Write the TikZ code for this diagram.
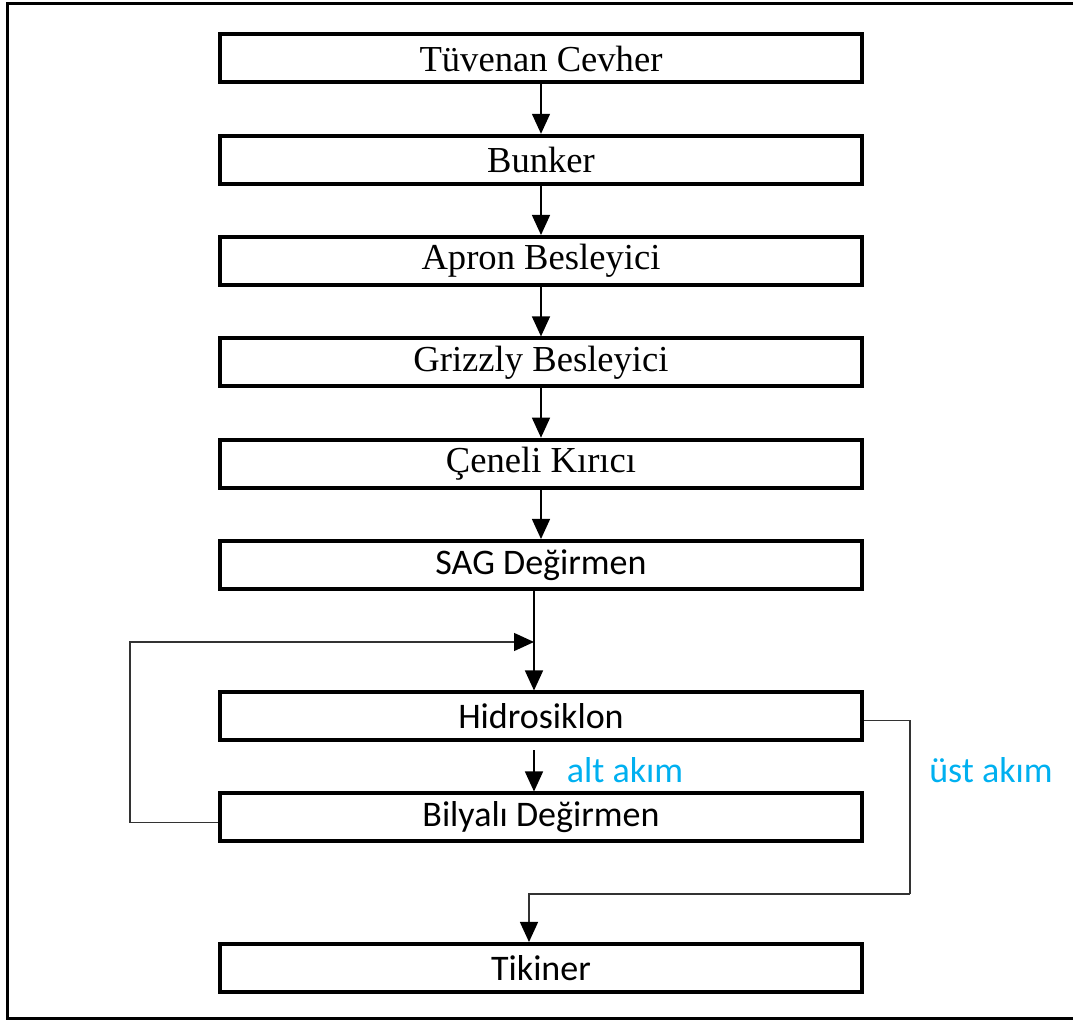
\documentclass[tikz,border=0pt]{standalone}
\usepackage{fontspec}
\setmainfont{Liberation Serif}
\newfontfamily\carlito{Carlito}
\usetikzlibrary{arrows.meta}
\definecolor{akimblue}{RGB}{0,176,240}

\begin{document}
\begin{tikzpicture}[x=0.5pt,y=-0.5pt,
  kutu/.style={draw,line width=2pt,minimum width=321pt,minimum height=24pt,inner sep=0pt},
  serif/.style={font=\fontsize{18.3}{20}\selectfont},
  sans/.style={font=\carlito\fontsize{18}{20}\selectfont},
  ok/.style={-{Triangle[length=10pt,width=9pt,black]},line width=0.7pt},
  hat/.style={line width=0.7pt,draw=black!80}]
  \useasboundingbox (0,0) rectangle (1073,1021);
  % outer frame, right side runs past the page
  \draw[line width=1.5pt] (1085,4) -- (7,4) -- (7,1019) -- (1085,1019);
  % crushing line
  \node[kutu,serif] (tuvenan) at (541,58.5)  {Tüvenan Cevher};
  \node[kutu,serif] (bunker)  at (541,159.8) {Bunker};
  \node[kutu,serif] (apron)   at (541,261)   {Apron Besleyici};
  \node[kutu,serif] (grizzly) at (541,362.4) {Grizzly Besleyici};
  \node[kutu,serif] (ceneli)  at (541,463.7) {Çeneli Kırıcı};
  % grinding circuit
  \node[kutu,sans] (sag)      at (541,565)   {SAG Değirmen};
  \node[kutu,sans] (hidro)    at (541,716.5) {Hidrosiklon};
  \node[kutu,sans] (bilyali)  at (541,817.5) {Bilyalı Değirmen};
  \node[kutu,sans] (tikiner)  at (541,968)   {Tikiner};
  \node[sans,text=akimblue] (alt) at (625,770) {alt akım};
  \node[sans,text=akimblue] (ust) at (991,770) {üst akım};
  \coordinate (birles) at (534,642);
  \coordinate (donus)  at (910,894);
  \draw[ok] (tuvenan) -- (bunker);
  \draw[ok] (bunker) -- (apron);
  \draw[ok] (apron) -- (grizzly);
  \draw[ok] (grizzly) -- (ceneli);
  \draw[ok] (ceneli) -- (sag);
  \draw[ok] (sag.south -| birles) -- (hidro.north -| birles);
  \draw[ok] ([yshift=-4pt]hidro.south -| birles) -- (bilyali.north -| birles);
  % recycle and overflow
  \draw[hat,ok] ([yshift=-2.5pt]bilyali.west) -- ++(-88,0) |- (birles);
  \draw[hat] ([yshift=-2pt]hidro.east) -| (donus);
  \draw[hat,ok] (donus) -| ([xshift=-6pt]tikiner.north);
\end{tikzpicture}
\end{document}
